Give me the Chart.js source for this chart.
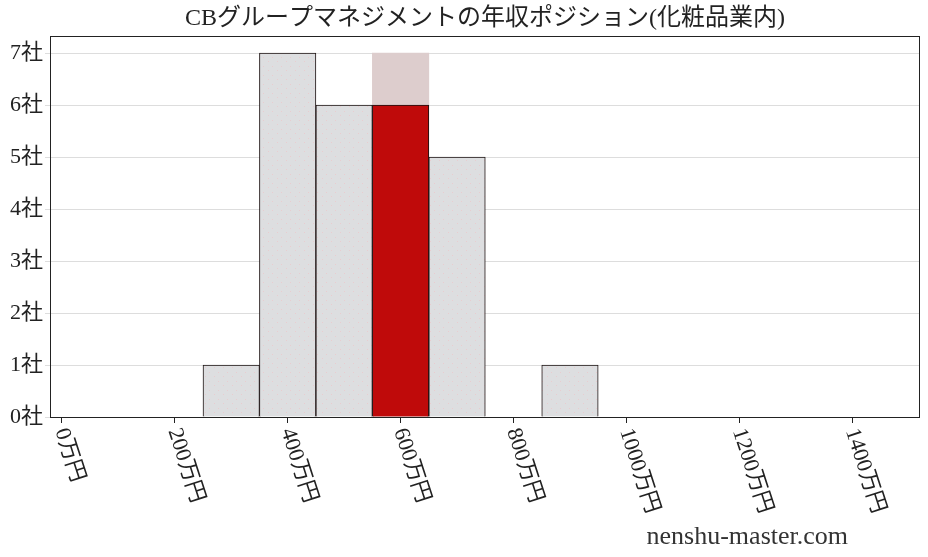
<!DOCTYPE html>
<html>
<head>
<meta charset="utf-8">
<script src="https://cdn.jsdelivr.net/npm/chart.js@4.4.1/dist/chart.umd.min.js"></script>
<style>
  html, body { margin: 0; padding: 0; background: #fff; }
  #wrap { width: 928px; height: 557px; position: relative; }
</style>
</head>
<body>
<div id="wrap"><canvas id="myChart"></canvas></div>
<script>
// 年収帯（万円、ビンの中心）と社数
const binCenters = [300, 400, 500, 600, 700, 900];
const companyCounts = [1, 7, 6, 7, 5, 1];
const highlightBin = [600];
const highlightCount = [6];
const xTicks = [0, 200, 400, 600, 800, 1000, 1200, 1400];
const yTicks = [0, 1, 2, 3, 4, 5, 6, 7];

const titleText = 'CBグループマネジメントの年収ポジション(化粧品業内)';
const serif = '"Liberation Serif", "DejaVu Serif", "Noto Sans CJK JP", serif';

function makeDotPattern() {
  const c = document.createElement('canvas');
  c.width = 9; c.height = 9;
  const g = c.getContext('2d');
  g.fillStyle = '#dddee0';
  g.fillRect(0, 0, 9, 9);
  g.fillStyle = '#e8cdd0';
  g.fillRect(2, 3, 1, 1);
  g.fillRect(7, 7, 1, 1);
  return g.createPattern(c, 'repeat');
}

function drawChart() {
  const ctx = document.getElementById('myChart').getContext('2d');
  const dots = makeDotPattern();

  const bgColors = binCenters.map(b => highlightBin.includes(b) ? '#ddcdcd' : dots);
  const borderWidths = binCenters.map(b => highlightBin.includes(b) ? 0 : 1);

  const frame = {
    id: 'frame',
    afterDraw(chart) {
      const c = chart.ctx;
      const a = chart.chartArea;
      c.save();
      c.strokeStyle = '#222';
      c.lineWidth = 1;
      c.strokeRect(a.left + 0.5, a.top + 0.5, a.right - a.left - 1, a.bottom - a.top);

      // 横軸ラベル（時計回りに回転）
      const xs = chart.scales.x;
      c.fillStyle = '#222';
      c.font = '22px ' + serif;
      c.textAlign = 'left';
      c.textBaseline = 'middle';
      xTicks.forEach(v => {
        const px = xs.getPixelForValue(v);
        c.save();
        c.translate(px - 1, a.bottom + 12);
        c.rotate(72 * Math.PI / 180);
        c.fillText(v + '万円', 0, 0);
        c.restore();
      });

      // タイトル
      c.font = '24px ' + serif;
      c.textAlign = 'center';
      c.fillText(titleText, (a.left + a.right) / 2, 19);

      // 透かし
      c.font = '26px ' + serif;
      c.textAlign = 'right';
      c.fillStyle = '#333';
      c.fillText('nenshu-master.com', 848, 537);
      c.restore();
    }
  };

  new Chart(ctx, {
    type: 'bar',
    data: {
      datasets: [{
        label: '業界',
        data: binCenters.map((b, i) => ({ x: b, y: companyCounts[i] })),
        backgroundColor: bgColors,
        borderColor: '#1a1010',
        borderWidth: borderWidths,
        borderSkipped: 'bottom',
        grouped: false,
        order: 2,
        barPercentage: 1,
        categoryPercentage: 1
      }, {
        label: '対象企業',
        data: highlightBin.map((b, i) => ({ x: b, y: highlightCount[i] })),
        backgroundColor: '#bf0a0a',
        borderColor: '#1a1010',
        borderWidth: 1,
        borderSkipped: 'bottom',
        grouped: false,
        order: 1,
        barPercentage: 1,
        categoryPercentage: 1
      }]
    },
    options: {
      responsive: true,
      maintainAspectRatio: false,
      animation: false,
      layout: { padding: { top: 36, right: 8, left: 0, bottom: 0 } },
      scales: {
        x: {
          type: 'linear',
          min: -21,
          max: 1520,
          offset: false,
          afterFit: s => { s.height = 140; },
          afterBuildTicks: s => { s.ticks = xTicks.map(v => ({ value: v })); },
          grid: { display: true, offset: false, drawOnChartArea: false, tickLength: 6, color: '#222' },
          border: { display: false },
          ticks: { display: false }
        },
        y: {
          min: 0,
          max: 7.33,
          afterFit: s => { s.width = 50; },
          afterBuildTicks: s => { s.ticks = yTicks.map(v => ({ value: v })); },
          grid: { color: '#dddddd', tickLength: 5 },
          border: { display: false },
          ticks: {
            padding: 2,
            color: '#222',
            font: { family: serif, size: 22 },
            callback: v => v + '社'
          }
        }
      },
      plugins: {
        legend: { display: false },
        title: { display: false },
        tooltip: { enabled: false }
      }
    },
    plugins: [frame]
  });
}

drawChart();
</script>
</body>
</html>
